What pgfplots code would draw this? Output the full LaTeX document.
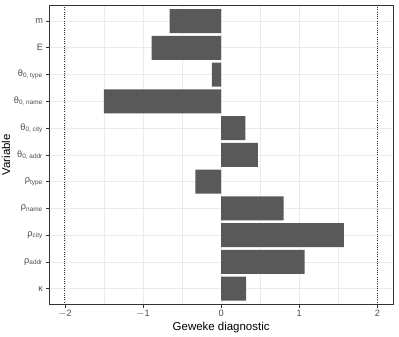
\documentclass[border=0pt]{standalone}
\usepackage{pgfplots}
\pgfplotsset{compat=1.18}
\usepackage{fontspec}
\setmainfont{Liberation Sans}
\definecolor{bargrey}{gray}{0.35}
\definecolor{gridgrey}{gray}{0.92}
\definecolor{tickgrey}{gray}{0.30}
\definecolor{framegrey}{gray}{0.20}
\newcommand{\sub}[1]{\textsubscript{#1}}
\begin{document}
\begin{tikzpicture}
\begin{axis}[
  name=ax,
  scale only axis,
  width=258pt, height=225pt,
  xmin=-2.2, xmax=2.2,
  ymin=0.4, ymax=11.6,
  xtick={-2,-1,0,1,2},
  xticklabels={$-$2,$-$1,0,1,2},
  minor x tick num=1,
  ytick={1,...,11},
  yticklabels={κ,ρ\sub{addr},ρ\sub{city},ρ\sub{name},ρ\sub{type},θ\sub{0, addr},θ\sub{0, city},θ\sub{0, name},θ\sub{0, type},E,m},
  tick pos=left,
  tick align=outside,
  major tick length=2.2pt,
  minor tick length=0pt,
  tick style={framegrey, line width=0.5pt},
  xmajorgrids, xminorgrids, ymajorgrids,
  major grid style={gridgrey, line width=0.5pt},
  minor grid style={gridgrey, line width=0.3pt},
  axis line style={framegrey, line width=0.7pt},
  ticklabel style={font=\fontsize{6.9}{8}\selectfont, text=tickgrey},
  yticklabel style={xshift=1pt},
  xticklabel style={yshift=1.5pt},
  xlabel={Geweke diagnostic},
  ylabel={Variable},
  label style={font=\fontsize{8.6}{10}\selectfont},
  xlabel style={yshift=4pt},
  ylabel style={yshift=-4pt},
  /pgf/number format/assume math mode=true,
  clip=false,
]
\addplot[xbar, bar width=0.9, fill=bargrey, draw=none] coordinates {
  (0.32,1) (1.07,2) (1.57,3) (0.80,4) (-0.33,5) (0.47,6)
  (0.31,7) (-1.50,8) (-0.12,9) (-0.89,10) (-0.66,11)
};
\addplot[framegrey, line width=0.7pt, densely dotted] coordinates {(-2,0.4) (-2,11.6)};
\addplot[framegrey, line width=0.7pt, densely dotted] coordinates {(2,0.4) (2,11.6)};
\end{axis}
\pgfresetboundingbox
\path ([shift={(-37pt,-24pt)}]ax.south west) rectangle ([shift={(4.5pt,3.75pt)}]ax.north east);
\end{tikzpicture}
\end{document}
